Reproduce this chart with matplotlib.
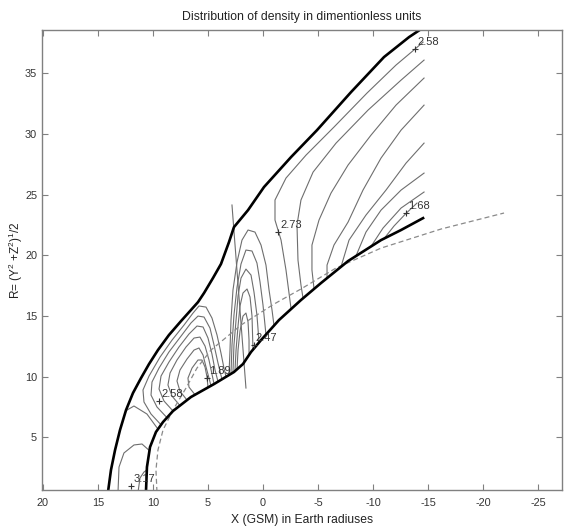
import matplotlib
matplotlib.use('Agg')
import matplotlib.pyplot as plt

plt.rcParams['font.family'] = ['Liberation Sans', 'DejaVu Sans']
plt.rcParams['axes.unicode_minus'] = False
plt.rcParams['mathtext.fontset'] = 'custom'
plt.rcParams['mathtext.rm'] = 'Liberation Sans'
plt.rcParams['mathtext.it'] = 'Liberation Sans:italic'

# ---------------- data (X in Earth radii, R in Earth radii) ----------------
outer_x = [14.09, 13.82, 13.45, 13.0, 12.45, 11.82, 11.09, 10.36, 9.55, 8.55, 7.45, 6.55, 5.91, 5.36,
           4.55, 3.82, 3.09, 2.64, 1.36, -0.09, -2.55, -4.91, -8.0, -11.0, -13.27, -14.36]
outer_y = [0.50, 2.31, 3.95, 5.60, 7.25, 8.65, 9.88, 11.04, 12.19, 13.43, 14.58, 15.49, 16.14, 16.89,
           18.12, 19.28, 21.09, 22.32, 23.72, 25.62, 28.09, 30.31, 33.44, 36.33, 37.97, 38.63]

inner_x = [10.64, 10.55, 10.27, 9.73, 9.09, 8.18, 6.55, 4.45, 2.64, 1.82, 1.09, 0.18,
           -1.45, -3.45, -5.27, -7.73, -10.73, -12.55, -14.55]
inner_y = [0.50, 2.55, 4.20, 5.44, 6.26, 7.17, 8.32, 9.39, 10.38, 11.04, 12.03, 13.01,
           14.66, 16.31, 17.71, 19.52, 21.25, 22.08, 23.06]

dash_x = [9.64, 9.73, 9.55, 9.09, 8.18, 7.0, 6.0, 4.73, 2.0, -1.0, -3.45, -6.64, -10.73, -16.18, -21.91]
dash_y = [0.50, 2.31, 3.95, 5.60, 7.25, 9.06, 10.71, 12.19, 14.25, 15.98, 17.22, 18.95, 20.59, 22.16, 23.48]

vline_x = [2.82, 1.55]
vline_y = [24.14, 9.06]

# tail contours
t1_x = [-14.55, -13.82, -12.09, -9.45, -6.45, -3.91, -2.09, -1.09, -1.09, -1.64, -2.09, -2.55]
t1_y = [37.56, 36.99, 35.67, 33.36, 30.56, 28.25, 26.36, 24.55, 22.90, 21.25, 18.78, 15.60]
t2_x = [-14.64, -12.55, -9.55, -6.64, -4.55, -3.45, -3.09, -3.18, -3.45, -3.64]
t2_y = [36.08, 34.43, 31.96, 29.24, 26.85, 24.55, 22.49, 19.60, 17.55, 16.46]
t3_x = [-14.64, -12.09, -9.82, -7.73, -6.18, -5.09, -4.45, -4.45, -4.64]
t3_y = [34.60, 32.37, 29.90, 27.43, 25.12, 22.90, 20.84, 18.78, 17.23]
t4_x = [-14.64, -12.55, -10.73, -9.09, -7.73, -6.45, -5.82, -5.82]
t4_y = [32.37, 30.31, 28.01, 25.37, 22.73, 20.84, 19.19, 18.11]
t5_x = [-14.64, -13.0, -11.18, -9.36, -7.82, -7.09]
t5_y = [29.24, 27.59, 25.37, 23.31, 21.25, 19.05]
t6_x = [-14.64, -12.55, -10.73, -9.36, -8.45]
t6_y = [26.77, 25.37, 23.72, 21.91, 19.94]
t7_x = [-14.64, -12.55, -10.91, -9.82]
t7_y = [25.21, 23.89, 22.24, 20.73]
t8_x = [-14.0, -13.0, -11.91, -11.0]
t8_y = [24.30, 23.45, 22.41, 21.37]

# nose contours
n0_x = [12.45, 11.73, 10.55, 9.55]
n0_y = [7.20, 7.58, 6.92, 5.68]
n1_x = [9.27, 10.18, 10.82, 10.91, 10.36, 9.36, 8.27, 7.18, 6.36, 5.82, 5.18, 4.64, 4.18, 3.82, 3.55, 3.36]
n1_y = [6.03, 6.92, 7.91, 8.90, 10.05, 11.61, 13.01, 14.25, 15.24, 15.82, 15.73, 14.83, 13.43, 11.94, 10.71, 9.99]
n2_x = [8.73, 9.64, 10.18, 10.09, 9.45, 8.55, 7.45, 6.55, 5.91, 5.36, 4.82, 4.45, 4.09, 3.73]
n2_y = [6.62, 7.50, 8.48, 9.56, 10.71, 12.03, 13.34, 14.42, 14.99, 14.91, 14.00, 12.60, 11.12, 9.78]
n3_x = [8.18, 9.0, 9.45, 9.27, 8.55, 7.64, 6.73, 6.0, 5.45, 5.0, 4.64, 4.36, 4.09]
n3_y = [7.17, 7.99, 8.98, 10.05, 11.20, 12.44, 13.51, 14.17, 14.09, 13.18, 11.86, 10.54, 9.59]
n4_x = [7.55, 8.27, 8.64, 8.45, 7.82, 7.0, 6.27, 5.73, 5.27, 4.91, 4.64, 4.45]
n4_y = [7.61, 8.40, 9.31, 10.30, 11.37, 12.44, 13.18, 13.26, 12.52, 11.37, 10.21, 9.39]
n5_x = [6.91, 7.55, 7.82, 7.55, 6.91, 6.27, 5.82, 5.45, 5.18, 4.91, 4.73]
n5_y = [8.07, 8.81, 9.64, 10.54, 11.45, 12.19, 12.36, 11.78, 10.79, 9.88, 9.25]
n6_x = [6.18, 6.73, 6.82, 6.45, 5.91, 5.55, 5.27, 5.09, 5.0]
n6_y = [8.51, 9.14, 9.88, 10.71, 11.37, 11.37, 10.79, 9.97, 9.11]

# kink contours
k1_x = [3.09, 3.0, 2.91, 2.73, 2.36, 1.91, 1.36, 0.73, 0.18, -0.27, -0.55, -0.82, -1.0]
k1_y = [10.21, 12.19, 14.66, 17.13, 19.44, 21.25, 22.08, 21.91, 20.84, 19.19, 17.13, 15.49, 14.20]
k2_x = [2.91, 2.82, 2.64, 2.36, 2.0, 1.55, 1.0, 0.55, 0.27, 0.0, -0.27]
k2_y = [10.23, 12.60, 15.07, 17.38, 19.28, 20.43, 20.35, 19.36, 17.79, 15.90, 13.45]
k3_x = [2.73, 2.64, 2.45, 2.27, 2.0, 1.55, 1.09, 0.82, 0.55, 0.36]
k3_y = [10.38, 12.60, 14.66, 16.64, 18.12, 18.86, 18.37, 16.97, 15.07, 12.82]
k4_x = [2.55, 2.45, 2.27, 2.09, 1.82, 1.45, 1.18, 1.0, 0.91]
k4_y = [10.45, 12.19, 14.17, 15.82, 16.89, 17.22, 16.56, 14.99, 12.22]
k5_x = [2.36, 2.27, 2.09, 1.82, 1.55, 1.36, 1.27, 1.27]
k5_y = [10.61, 12.19, 13.76, 14.99, 15.24, 14.50, 13.01, 11.79]

# subsolar contours
b1_x = [13.18, 13.09, 12.64, 11.73, 11.0, 10.32]
b1_y = [0.50, 2.55, 3.71, 4.37, 4.45, 3.90]
b2_x = [11.36, 11.18, 10.82, 10.57]
b2_y = [0.50, 1.65, 2.14, 2.30]

# contour labels
label_text = ['2.58', '2.73', '2.47', '1.89', '2.58', '3.17', '1.68']
label_x = [-13.82, -1.40, 0.85, 5.09, 9.45, 12.0, -13.0]
label_y = [36.99, 21.90, 12.60, 9.88, 7.99, 0.99, 23.45]

x_ticks = [20, 15, 10, 5, 0, -5, -10, -15, -20, -25]
y_ticks = [5, 10, 15, 20, 25, 30, 35]

# ---------------- drawing ----------------
W, H = 565, 527
fig = plt.figure(figsize=(W / 100, H / 100), dpi=100)
ax = fig.add_axes([42 / W, (H - 490) / H, 520 / W, 460.5 / H])

contour_color = '#6e6e6e'
contours = [
    (t1_x, t1_y), (t2_x, t2_y), (t3_x, t3_y), (t4_x, t4_y), (t5_x, t5_y),
    (t6_x, t6_y), (t7_x, t7_y), (t8_x, t8_y),
    (n0_x, n0_y), (n1_x, n1_y), (n2_x, n2_y), (n3_x, n3_y), (n4_x, n4_y),
    (n5_x, n5_y), (n6_x, n6_y),
    (k1_x, k1_y), (k2_x, k2_y), (k3_x, k3_y), (k4_x, k4_y), (k5_x, k5_y),
    (b1_x, b1_y), (b2_x, b2_y),
]
for cx, cy in contours:
    ax.plot(cx, cy, color=contour_color, lw=0.8, solid_joinstyle='round')

ax.plot(vline_x, vline_y, color=contour_color, lw=0.8)
ax.plot(dash_x, dash_y, color='#8a8a8a', lw=0.9, dashes=(4, 2.5))
ax.plot(outer_x, outer_y, color='black', lw=1.9, solid_joinstyle='round')
ax.plot(inner_x, inner_y, color='black', lw=1.9, solid_joinstyle='round')

for t, lx, ly in zip(label_text, label_x, label_y):
    ax.plot([lx], [ly], marker='+', color='#333333', ms=5, mew=0.8)
    ax.annotate(t, (lx, ly), xytext=(1.5, 1.5), textcoords='offset points',
                ha='left', va='bottom', fontsize=8, color='#333333')

ax.set_xlim(20.09, -27.18)
ax.set_ylim(0.66, 38.6)
ax.set_xticks(x_ticks)
ax.set_yticks(y_ticks)

for sp in ax.spines.values():
    sp.set_color('#808080')
    sp.set_linewidth(1.0)
ax.tick_params(direction='in', top=True, right=True, length=4, width=0.8,
               color='#808080', labelcolor='#333333', labelsize=7.8)
ax.tick_params(axis='x', pad=6)
ax.tick_params(axis='y', pad=3.5)

ax.set_title('Distribution of density in dimentionless units', fontsize=8.8,
             color='#222222', pad=7)
ax.set_xlabel('X (GSM) in Earth radiuses', fontsize=8.7, color='#222222')
ax.xaxis.set_label_coords(0.5, -0.052)
ax.set_ylabel('R= (Y$^2$ +Z$^2$)$^1$/2', fontsize=8.5, color='#222222')
ax.yaxis.set_label_coords(-0.032, 0.5)

fig.savefig('out.png', dpi=100)
